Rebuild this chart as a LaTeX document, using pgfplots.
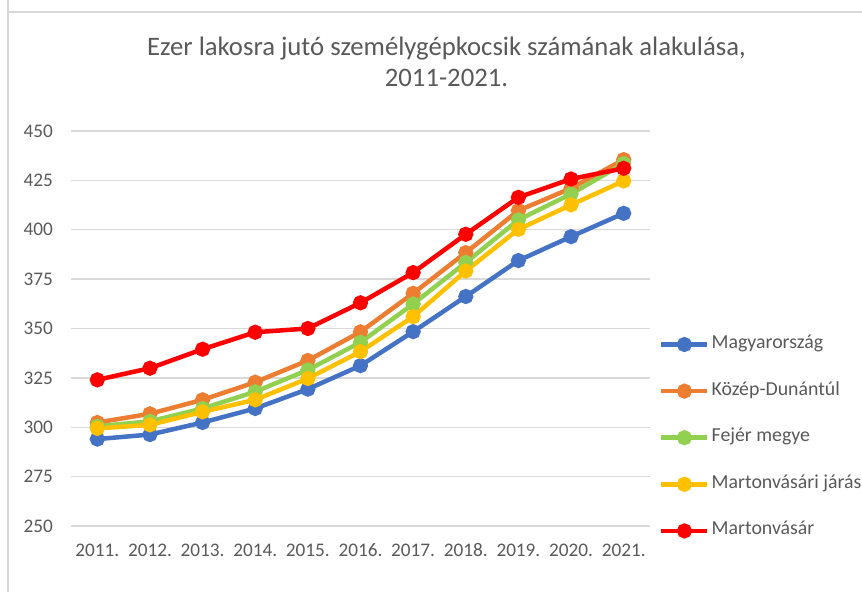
\documentclass[border=0pt]{standalone}
\usepackage{fontspec}
\setmainfont{Carlito}
\usepackage{pgfplots}
\pgfplotsset{compat=1.18}
\definecolor{cblue}{HTML}{4472C4}
\definecolor{corange}{HTML}{ED7D31}
\definecolor{cgreen}{HTML}{92D050}
\definecolor{cyellow}{HTML}{FFC000}
\definecolor{cred}{HTML}{FF0000}
\definecolor{txtgray}{HTML}{595959}
\definecolor{gridgray}{HTML}{D9D9D9}

\begin{document}
\begin{tikzpicture}[x=1bp,y=1bp]
\useasboundingbox (0,0) rectangle (862,592);
% chart frame (right and bottom edges fall outside the picture)
\draw[gridgray, line width=1.3bp] (8,600) -- (8,580) -- (8,-10);
\draw[gridgray, line width=1.3bp] (8,580) -- (880,580);

\node[align=center, text=txtgray, font=\fontsize{26.8}{31}\selectfont]
  at (446.5,530) {Ezer lakosra jutó személygépkocsik számának alakulása,\\2011-2021.};

\begin{axis}[
  at={(71bp,66bp)}, anchor=south west,
  scale only axis,
  width=579bp, height=395bp,
  xmin=-0.5, xmax=10.5,
  ymin=250, ymax=450,
  ytick={250,275,...,450},
  xtick={0,...,10},
  xticklabels={2011.,2012.,2013.,2014.,2015.,2016.,2017.,2018.,2019.,2020.,2021.},
  axis line style={draw=none},
  major tick length=0pt,
  ymajorgrids=true,
  grid style={gridgray, line width=1.4bp},
  ticklabel style={font=\fontsize{19.3}{21}\selectfont, text=txtgray},
  /pgf/number format/assume math mode=true,
  yticklabel style={anchor=east, inner sep=0pt, xshift=-18bp},
  xticklabel style={anchor=base, inner sep=0pt, yshift=-31bp},
  every axis plot/.append style={line width=4.5bp, mark=*, mark size=5.3bp,
    mark options={solid, line width=1bp}},
  legend image code/.code={
    \draw[mark repeat=2, mark phase=2, #1] plot coordinates {(0bp,0bp) (23bp,0bp) (46bp,0bp)};
  },
  legend style={
    at={(axis description cs:1.0155,0.2235)}, anchor=west,
    draw=none, fill=none, inner xsep=0pt, inner ysep=0pt,
    font=\fontsize{19.9}{21}\selectfont, text=txtgray,
    row sep=30.6bp, column sep=2bp,
    nodes={inner sep=0pt, text height=12bp, text depth=4bp},
  },
  legend cell align=left,
  clip=false,
]
\addplot[cblue, mark options={fill=cblue}] coordinates {
  (0,294.0) (1,296.3) (2,302.4) (3,309.5) (4,319.3) (5,331.2)
  (6,348.4) (7,366.2) (8,384.4) (9,396.5) (10,408.3)
};
\addlegendentry{Magyarország}
\addplot[corange, mark options={fill=corange}] coordinates {
  (0,302.4) (1,306.8) (2,313.9) (3,322.8) (4,333.8) (5,348.3)
  (6,367.8) (7,388.4) (8,409.7) (9,421.0) (10,435.5)
};
\addlegendentry{Közép-Dunántúl}
\addplot[cgreen, mark options={fill=cgreen}] coordinates {
  (0,300.5) (1,303.0) (2,309.5) (3,318.0) (4,329.0) (5,343.0)
  (6,362.4) (7,383.4) (8,405.0) (9,418.1) (10,433.5)
};
\addlegendentry{Fejér megye}
\addplot[cyellow, mark options={fill=cyellow}] coordinates {
  (0,299.4) (1,301.2) (2,307.8) (3,313.9) (4,324.7) (5,338.3)
  (6,356.0) (7,379.1) (8,400.2) (9,412.6) (10,424.7)
};
\addlegendentry{Martonvásári járás}
\addplot[cred, mark options={fill=cred}] coordinates {
  (0,324.0) (1,329.9) (2,339.5) (3,348.1) (4,350.0) (5,363.0)
  (6,378.3) (7,397.7) (8,416.4) (9,425.7) (10,431.1)
};
\addlegendentry{Martonvásár}
\end{axis}
\end{tikzpicture}
\end{document}
